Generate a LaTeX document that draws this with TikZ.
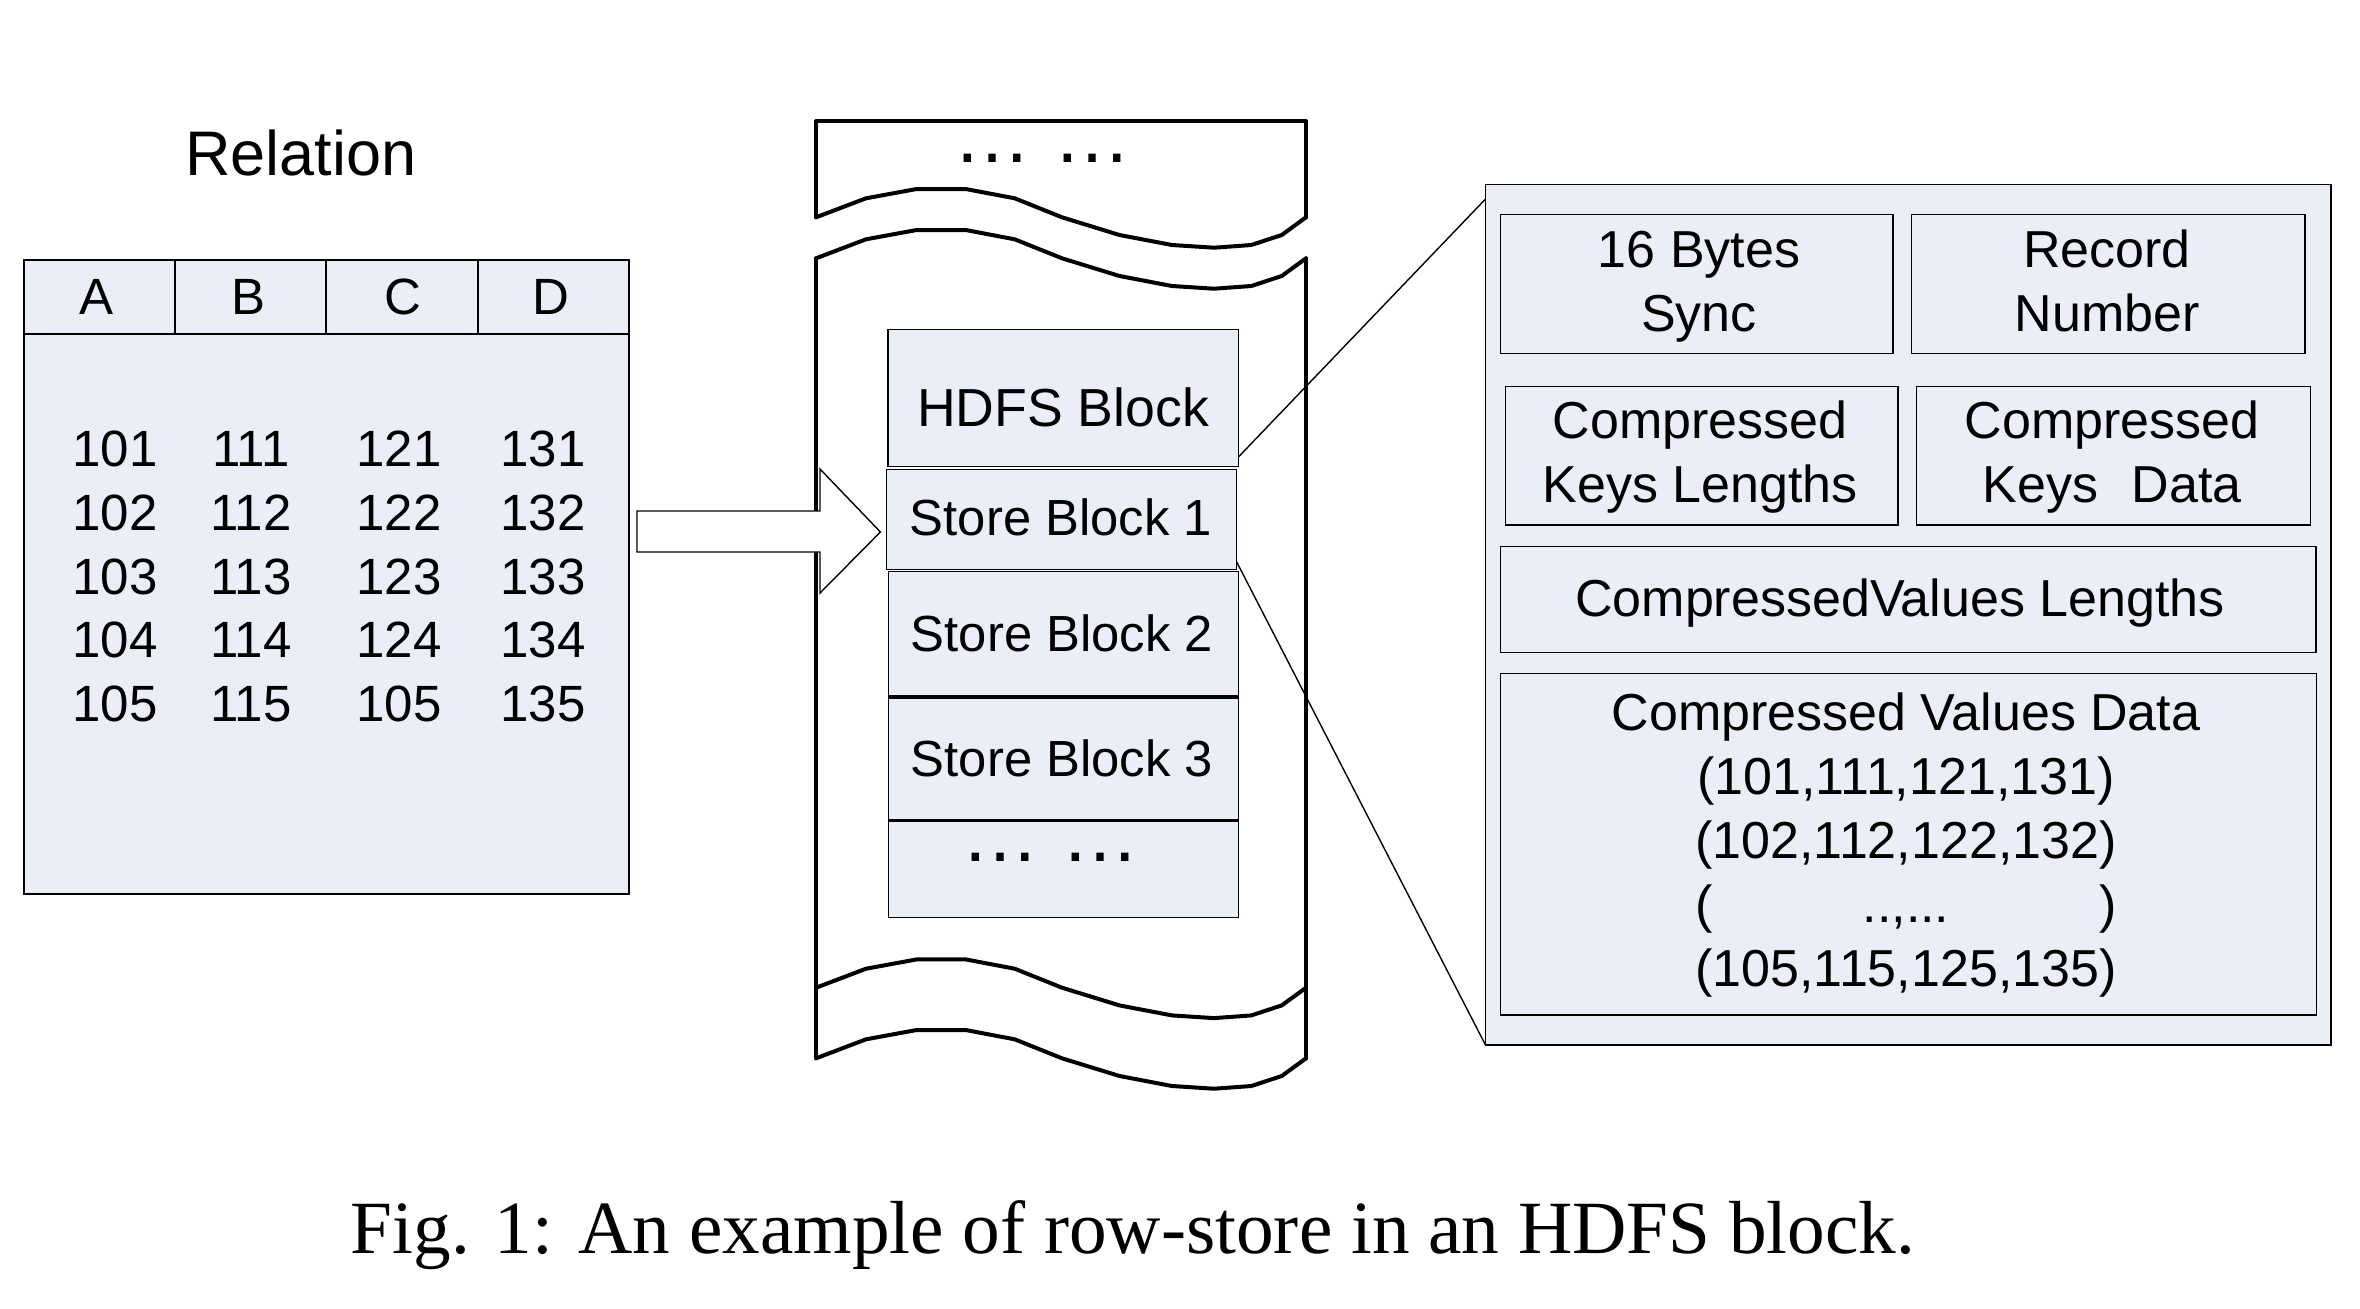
\documentclass[tikz,border=0pt]{standalone}
\usepackage{fontspec}
\setmainfont{Liberation Sans}
\newfontfamily\capfont{Liberation Serif}
\definecolor{cellfill}{RGB}{234,239,247}
\newlength\plen
\newcommand\mlines[1]{\begin{tabular}[t]{@{}c@{}}#1\end{tabular}}
\newcommand\cellbox[5]{%
  \node[box, minimum width={(#4-#2)*0.5pt}, minimum height={(#5-#3)*0.5pt}] (#1) at ({(#2+#4)/2},{(#3+#5)/2}) {};}
\begin{document}
\begin{tikzpicture}[x=0.5pt,y=-0.5pt,
  box/.style={draw=black, line width=0.7pt, fill=cellfill, inner sep=0pt, outer sep=0pt},
  wall/.style={line width=2pt, line cap=round, line join=round},
  txt/.style={anchor=base, inner sep=0pt, font=\fontsize{26}{32}\selectfont},
  tabtxt/.style={anchor=base, inner sep=0pt, font=\fontsize{25.5}{32}\selectfont},
  dotstxt/.style={anchor=base, inner sep=0pt, font=\fontsize{39}{40}\selectfont},
  link/.style={line width=0.7pt}]
\useasboundingbox (0,0) rectangle (2360,1308);

% ---------------- Relation table ----------------
\node[anchor=base, inner sep=0pt, font=\fontsize{31.5}{36}\selectfont] (rel) at (301,175) {Relation};
\cellbox{hA}{24}{260}{175}{334}
\cellbox{hB}{175}{260}{326}{334}
\cellbox{hC}{326}{260}{478}{334}
\cellbox{hD}{478}{260}{629}{334}
\cellbox{body}{24}{334}{629}{894}
\node[tabtxt] (lA) at (97,314.6) {A};
\node[tabtxt] (lB) at (249,314.6) {B};
\node[tabtxt] (lC) at (403,314.6) {C};
\node[tabtxt] (lD) at (551,314.6) {D};
\foreach \a/\b/\c/\d [count=\i from 0] in {101/111/121/131,102/112/122/132,103/113/123/133,104/114/124/134,105/115/105/135}{
  \node[tabtxt] (va\i) at (115,{466.5+63.8*\i}) {\a};
  \node[tabtxt] (vb\i) at (251,{466.5+63.8*\i}) {\b};
  \node[tabtxt] (vc\i) at (399,{466.5+63.8*\i}) {\c};
  \node[tabtxt] (vd\i) at (543,{466.5+63.8*\i}) {\d};
}

% ---------------- HDFS scroll ----------------
\draw[wall] (816,217.3) -- (816,121) -- (1306,121) -- (1306,217.3);
\draw[wall] (816,258.3) -- (816,1058.3);
\draw[wall] (1306,258.3) -- (1306,1058.3);
\foreach \w in {217.3,258.3,987.7,1058.3}
  \draw[wall, shift={(0,\w)}] (816,0) -- (866,-19) -- (916.6,-28.3) -- (965.7,-28.3) -- (1014.7,-19) -- (1062,0) -- (1119.5,17.7) -- (1172,27.7) -- (1214,30.4) -- (1251.3,27.7) -- (1281.7,17.7) -- (1306,0);
\node[dotstxt] (topdots) at (1042.5,162.5) {… …};

\cellbox{hdfs}{888}{329.6}{1238.4}{466.6}
\cellbox{sb1}{886.5}{469.3}{1236.7}{569.3}
\cellbox{sb2}{888.4}{571.7}{1238.4}{696}
\cellbox{sb3}{888.4}{698}{1238.4}{820}
\cellbox{more}{888.3}{821}{1238.3}{917.7}
\node[txt, font=\fontsize{26.8}{32}\selectfont] (thdfs) at (1063,426) {HDFS Block};
\node[txt, font=\fontsize{25.4}{32}\selectfont] (tsb1) at (1061,535) {Store Block 1};
\node[txt, font=\fontsize{25.4}{32}\selectfont] (tsb2) at (1062,651) {Store Block 2};
\node[txt, font=\fontsize{25.4}{32}\selectfont] (tsb3) at (1062,776) {Store Block 3};
\node[dotstxt] (moredots) at (1050.5,861.5) {… …};

% ---------------- block arrow ----------------
\draw[line width=0.7pt, fill=white, line join=miter] (637,511) -- (820,511) -- (820,469) -- (880.4,532) -- (820,593) -- (820,552) -- (637,552) -- cycle;

% ---------------- Store block detail panel ----------------
\cellbox{panel}{1485.5}{184.3}{2331}{1045}
\cellbox{sync}{1500.2}{214.3}{1892.8}{353.3}
\cellbox{recno}{1911.6}{214.3}{2305}{353.3}
\cellbox{klen}{1505.2}{386.7}{1897.9}{525}
\cellbox{kdata}{1916.6}{386.7}{2310.7}{525}
\cellbox{vlen}{1500.3}{546.7}{2316}{652.7}
\cellbox{vdata}{1500.3}{673.3}{2316.5}{1015}
\node[txt] (tsync) at (1699,267.5) {\mlines{16 Bytes\\Sync}};
\node[txt] (trecno) at (2107,267.5) {\mlines{Record\\Number}};
\node[txt] (tklen) at (1700,438.3) {\mlines{Compressed\\Keys Lengths}};
\node[txt] (tkdata) at (2112,438.3) {\mlines{Compressed\\Keys\hspace{0.65em}Data}};
\node[txt] (tvlen) at (1900,616) {CompressedValues Lengths};
\node[txt] (tvdata) at (1906,730) {\mlines{Compressed Values Data\\(101,111,121,131)\\(102,112,122,132)\\\settowidth{\plen}{(105,115,125,135)}\makebox[\plen]{(\hfill..,...\hfill)}\\(105,115,125,135)}};

% ---------------- zoom connectors ----------------
\draw[link] ([yshift=4.8pt]hdfs.south east) -- ([yshift=-7.35pt]panel.north west);
\draw[link] ([yshift=3.65pt]sb1.south east) -- (panel.south west);

% ---------------- caption ----------------
\node[anchor=base, inner sep=0pt, font=\capfont\fontsize{37.6}{40}\selectfont] (cap) at (1133,1253.3) {Fig. 1: An example of row-store in an HDFS block.};
\end{tikzpicture}
\end{document}
